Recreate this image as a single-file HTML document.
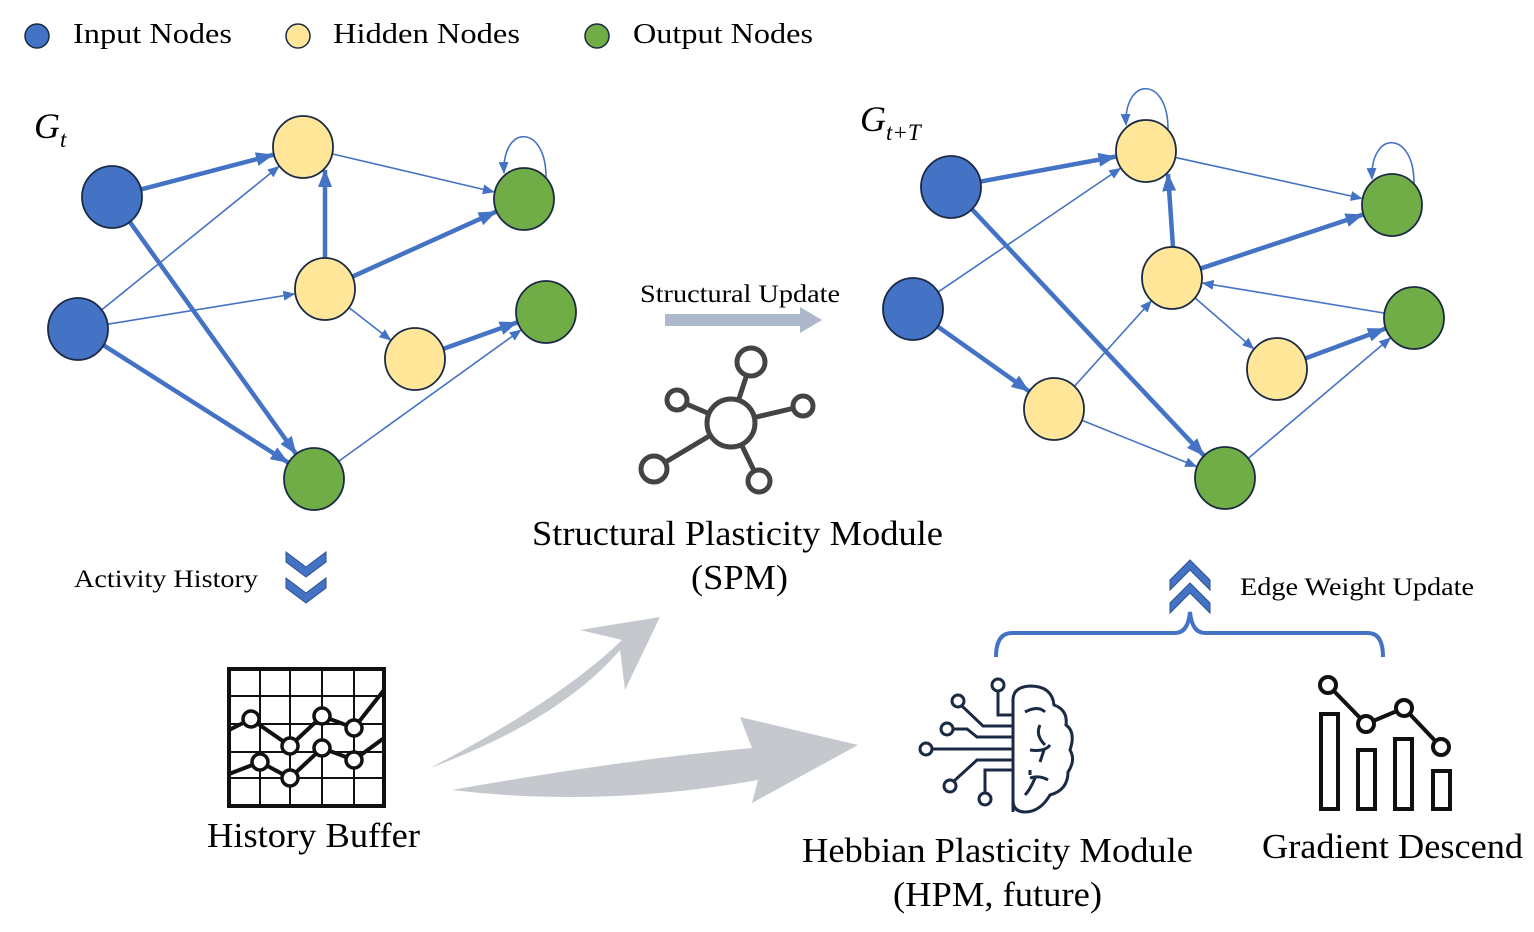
<!DOCTYPE html>
<html><head><meta charset="utf-8"><style>
html,body{margin:0;padding:0;background:#fff;}
svg{display:block;}
text{font-family:"Liberation Serif",serif;fill:#000;}
</style></head><body>
<svg id="s" width="1534" height="932" viewBox="0 0 1534 932" xmlns="http://www.w3.org/2000/svg">
<defs>
<marker id="at" markerUnits="userSpaceOnUse" markerWidth="12" markerHeight="10" refX="11" refY="5" orient="auto"><path d="M0,0 L12,5 L0,10 Z" fill="#4472C4"/></marker>
<marker id="ak" markerUnits="userSpaceOnUse" markerWidth="18" markerHeight="14" refX="17" refY="7" orient="auto"><path d="M0,0 L18,7 L0,14 Z" fill="#4472C4"/></marker>
</defs>
<!-- legend -->
<circle cx="37" cy="36" r="12" fill="#4472C4" stroke="#1a2a44" stroke-width="1.5"/>
<text x="73" y="43" font-size="29" textLength="159" lengthAdjust="spacingAndGlyphs">Input Nodes</text>
<circle cx="298" cy="36" r="12" fill="#FFE699" stroke="#1a2a44" stroke-width="1.5"/>
<text x="333" y="43" font-size="29" textLength="187" lengthAdjust="spacingAndGlyphs">Hidden Nodes</text>
<circle cx="597" cy="36" r="12" fill="#70AD47" stroke="#1a2a44" stroke-width="1.5"/>
<text x="633" y="43" font-size="29" textLength="180" lengthAdjust="spacingAndGlyphs">Output Nodes</text>
<text x="34" y="138" font-size="36" font-style="italic">G<tspan font-size="23" dy="9">t</tspan></text>
<text x="860" y="131" font-size="36" font-style="italic">G<tspan font-size="23" dy="9">t+T</tspan></text>
<g id="edges"></g>
<g id="nodes"></g>
<!-- middle -->
<text x="640" y="302" font-size="25" textLength="200" lengthAdjust="spacingAndGlyphs">Structural Update</text>
<path d="M665,314 L800,314 L800,307 L822,320 L800,333 L800,326 L665,326 Z" fill="#adb9ca"/>
<g stroke="#444" stroke-width="5" fill="none">
<line x1="731" y1="423" x2="751" y2="362"/><line x1="731" y1="423" x2="677" y2="400"/><line x1="731" y1="423" x2="803" y2="406"/><line x1="731" y1="423" x2="654" y2="469"/><line x1="731" y1="423" x2="759" y2="481"/>
<circle cx="731" cy="423" r="24" fill="#fff"/><circle cx="751" cy="362" r="14" fill="#fff"/><circle cx="677" cy="400" r="10" fill="#fff"/><circle cx="803" cy="406" r="10" fill="#fff"/><circle cx="654" cy="469" r="13" fill="#fff"/><circle cx="759" cy="481" r="11" fill="#fff"/>
</g>
<text x="532" y="545" font-size="35" textLength="411" lengthAdjust="spacingAndGlyphs">Structural Plasticity Module</text>
<text x="691" y="589" font-size="35" textLength="97" lengthAdjust="spacingAndGlyphs">(SPM)</text>
<!-- activity history -->
<text x="74" y="587" font-size="25" textLength="184" lengthAdjust="spacingAndGlyphs">Activity History</text>
<g fill="#4472C4" stroke="#2f528f" stroke-width="1">
<path d="M286,552 L306,567 L326,552 L326,562 L306,577 L286,562 Z"/>
<path d="M286,578 L306,593 L326,578 L326,588 L306,603 L286,588 Z"/>
<path d="M1170,580 L1190,560 L1210,580 L1210,590 L1190,570 L1170,590 Z"/>
<path d="M1170,603 L1190,583 L1210,603 L1210,613 L1190,593 L1170,613 Z"/>
</g>
<text x="1240" y="595" font-size="25" textLength="234" lengthAdjust="spacingAndGlyphs">Edge Weight Update</text>
<path d="M996,657 Q996,633 1012,633 L1175,633 Q1188,633 1190,612 Q1192,633 1205,633 L1368,633 Q1383,633 1383,657" fill="none" stroke="#4472C4" stroke-width="4"/>
<!-- gray arrows -->
<path d="M430,768 Q560,700 622,640 L580,630 L660,617 L625,690 L620,650 Q560,720 430,768 Z" fill="#c5c9ce"/>
<path d="M452,790 Q620,760 752,748 L740,717 L858,745 L752,803 L758,780 Q600,808 452,790 Z" fill="#c5c9ce"/>
<!-- history buffer -->
<g stroke="#111" fill="none">
<rect x="229" y="669" width="155" height="137" stroke-width="4"/>
<g stroke-width="2"><line x1="260" y1="669" x2="260" y2="806"/><line x1="290" y1="669" x2="290" y2="806"/><line x1="322" y1="669" x2="322" y2="806"/><line x1="354" y1="669" x2="354" y2="806"/>
<line x1="229" y1="696" x2="384" y2="696"/><line x1="229" y1="724" x2="384" y2="724"/><line x1="229" y1="752" x2="384" y2="752"/><line x1="229" y1="778" x2="384" y2="778"/></g>
<polyline points="229,730 251,719 290,746 322,716 354,728 384,690" stroke-width="4"/>
<polyline points="229,774 260,762 290,778 322,748 354,760 384,738" stroke-width="4"/>
<g fill="#fff" stroke-width="3.5"><circle cx="251" cy="719" r="8"/><circle cx="290" cy="746" r="8"/><circle cx="322" cy="716" r="8"/><circle cx="354" cy="728" r="8"/><circle cx="260" cy="762" r="8"/><circle cx="290" cy="778" r="8"/><circle cx="322" cy="748" r="8"/><circle cx="354" cy="760" r="8"/></g>
</g>
<text x="207" y="847" font-size="35" textLength="213" lengthAdjust="spacingAndGlyphs">History Buffer</text>
<!-- brain -->
<g stroke="#1b2a44" stroke-width="3" fill="none">
<path d="M1013,812 L1013,700 Q1013,687 1030,686 Q1052,686 1054,705 Q1068,710 1066,725 Q1076,732 1070,750 Q1076,760 1068,772 Q1068,790 1050,795 Q1040,812 1025,812 Q1013,812 1013,800"/>
<path d="M1025,712 Q1038,705 1045,712 M1040,725 Q1035,735 1045,745 M1030,750 Q1045,752 1050,745 M1044,750 L1040,762 M1030,778 Q1040,775 1048,780 M1035,778 Q1030,790 1025,795 M1030,775 L1030,770"/>
<polyline points="998,691 998,715 1012,715"/>
<polyline points="962,706 983,726 1012,726"/>
<polyline points="953,729 967,729 977,737 1012,737"/>
<line x1="932" y1="749" x2="1012" y2="749"/>
<polyline points="954,781 977,760 1012,760"/>
<polyline points="985,793 985,770 1012,770"/>
<circle cx="998" cy="685" r="6"/><circle cx="958" cy="701" r="6"/><circle cx="947" cy="729" r="6"/><circle cx="926" cy="749" r="6"/><circle cx="950" cy="786" r="6"/><circle cx="985" cy="799" r="6"/>
</g>
<!-- gradient descent -->
<g stroke="#111" stroke-width="4" fill="none">
<rect x="1321" y="714" width="17" height="95"/><rect x="1358" y="750" width="17" height="59"/><rect x="1395" y="739" width="17" height="70"/><rect x="1433" y="771" width="17" height="38"/>
<polyline points="1328,685 1366,724 1404,708 1441,747"/>
<g fill="#fff"><circle cx="1328" cy="685" r="8"/><circle cx="1366" cy="724" r="8"/><circle cx="1404" cy="708" r="8"/><circle cx="1441" cy="747" r="8"/></g>
</g>
<text x="802" y="862" font-size="35" textLength="391" lengthAdjust="spacingAndGlyphs">Hebbian Plasticity Module</text>
<text x="893" y="906" font-size="35" textLength="209" lengthAdjust="spacingAndGlyphs">(HPM, future)</text>
<text x="1262" y="858" font-size="35" textLength="261" lengthAdjust="spacingAndGlyphs">Gradient Descend</text>
<script>
var NS="http://www.w3.org/2000/svg";
var C={i:"#4472C4",h:"#FFE699",o:"#70AD47"};
function graph(nodes,edges,loops){
 var eg=document.getElementById("edges"),ng=document.getElementById("nodes");
 edges.forEach(function(e){
  var a=nodes[e[0]],b=nodes[e[1]],thick=e[2],l=document.createElementNS(NS,"line");
  if(e[3]){l.setAttribute("x1",e[3][0]);l.setAttribute("y1",e[3][1]);l.setAttribute("x2",e[3][2]);l.setAttribute("y2",e[3][3]);}
  else{
  var dx=b[0]-a[0],dy=b[1]-a[1],d=Math.sqrt(dx*dx+dy*dy),r=30;
  l.setAttribute("x1",a[0]+dx/d*r);l.setAttribute("y1",a[1]+dy/d*r);
  l.setAttribute("x2",b[0]-dx/d*(r+1));l.setAttribute("y2",b[1]-dy/d*(r+1));}
  l.setAttribute("stroke","#4472C4");l.setAttribute("stroke-width",thick?4.5:1.6);
  l.setAttribute("marker-end",thick?"url(#ak)":"url(#at)");eg.appendChild(l);
 });
 loops.forEach(function(k){
  var n=nodes[k];var p=document.createElementNS(NS,"path");
  p.setAttribute("d","M"+(n[0]+22)+","+(n[1]-22)+" C"+(n[0]+22)+","+(n[1]-75)+" "+(n[0]-22)+","+(n[1]-75)+" "+(n[0]-20)+","+(n[1]-26));
  p.setAttribute("fill","none");p.setAttribute("stroke","#4472C4");p.setAttribute("stroke-width",1.6);p.setAttribute("marker-end","url(#at)");eg.appendChild(p);
 });
 for(var k in nodes){var n=nodes[k];var c=document.createElementNS(NS,"ellipse");
  c.setAttribute("cx",n[0]);c.setAttribute("cy",n[1]);c.setAttribute("rx",30);c.setAttribute("ry",31);
  c.setAttribute("fill",C[k[0]]);c.setAttribute("stroke","#1a2a44");c.setAttribute("stroke-width",1.8);ng.appendChild(c);}
}
graph({i1:[112,197],i2:[78,329],h1:[303,147],h2:[325,289],h3:[415,359],o1:[524,199],o2:[546,312],o3:[314,479]},
[["i1","h1",1],["i1","o3",1],["i2","h1",0],["i2","h2",0],["i2","o3",1],["h2","h1",1,[325,258,325,170]],["h2","o1",1],["h1","o1",0],["h2","h3",0],["h3","o2",1],["o3","o2",0]],["o1"]);
graph({i1:[951,187],i2:[913,309],h1:[1146,151],h2:[1172,278],h3:[1054,409],h4:[1277,369],o1:[1392,205],o2:[1414,318],o3:[1225,478]},
[["i1","h1",1],["i2","h1",0],["i1","o3",1],["i2","h3",1],["h3","h2",0],["h3","o3",0],["h2","h1",1,[1173,247,1168,174]],["h2","o1",1],["h1","o1",0],["o2","h2",0],["h2","h4",0],["h4","o2",1],["o3","o2",0]],["h1","o1"]);
</script>
</svg>
</body></html>
